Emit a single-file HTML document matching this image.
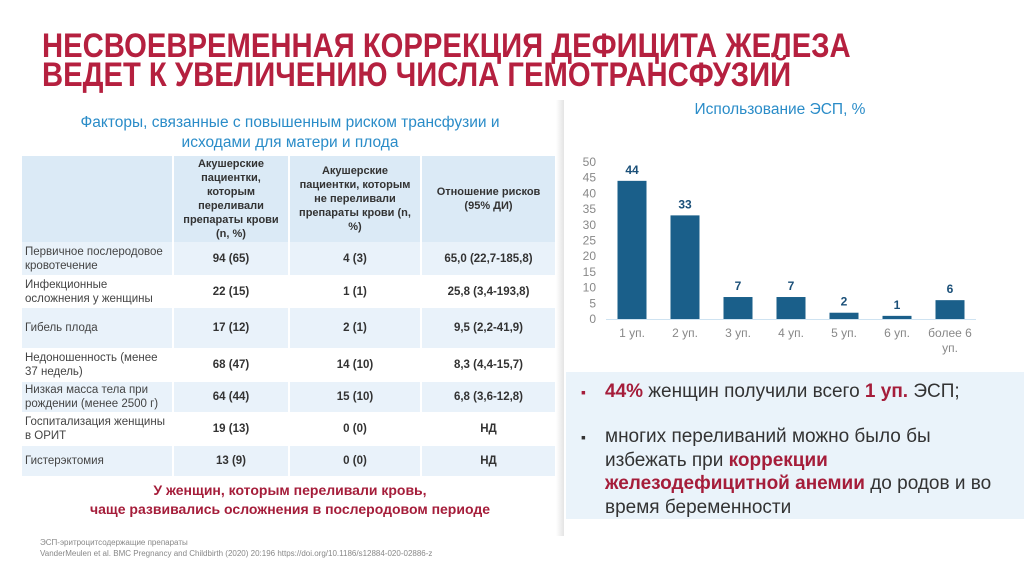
<!DOCTYPE html>
<html><head><meta charset="utf-8">
<style>
*{margin:0;padding:0;box-sizing:border-box}
body{width:1024px;height:574px;background:#fff;position:relative;overflow:hidden;font-family:"Liberation Sans","Noto Sans CJK SC",sans-serif;color:#333}
.abs{position:absolute}
.title{left:42px;font-family:"Liberation Sans",sans-serif;font-weight:bold;font-size:34px;color:#b5203f;white-space:nowrap;transform-origin:left top}
.sub{color:#2a8cc8;font-size:15.5px;text-align:center;line-height:20px}
.row{position:absolute;left:22px;width:533px;display:flex}
.row div{display:flex;align-items:center;justify-content:center;text-align:center;font-size:11.5px}
.row .c1{width:150px;justify-content:flex-start;text-align:left;padding-left:3px;color:#444;font-size:11.5px;line-height:14px}
.row .c2{width:116px;font-weight:bold;border-left:2px solid #fff}
.row .c3{width:132px;font-weight:bold;border-left:2px solid #fff}
.row .c4{width:135px;font-weight:bold;border-left:2px solid #fff}
.hd div{font-size:11px;line-height:14px;color:#333}
.l{background:#e9f2fa}
</style></head><body>
<div class="abs title" style="top:27px;transform:scaleX(0.86)">НЕСВОЕВРЕМЕННАЯ КОРРЕКЦИЯ ДЕФИЦИТА ЖЕЛЕЗА</div>
<div class="abs title" style="top:56px;transform:scaleX(0.86)">ВЕДЕТ К УВЕЛИЧЕНИЮ ЧИСЛА ГЕМОТРАНСФУЗИЙ</div>

<div class="abs" style="left:556px;top:100px;width:8px;height:436px;background:linear-gradient(90deg,#fff,#e4e4e4)"></div>

<div class="abs sub" style="left:20px;top:113px;width:540px">Факторы, связанные с повышенным риском трансфузии и<br>исходами для матери и плода</div>

<div class="row hd" style="top:156px;height:86px;background:#dbeaf6">
<div class="c1"></div>
<div class="c2" style="font-weight:bold">Акушерские<br>пациентки,<br>которым<br>переливали<br>препараты крови<br>(n, %)</div>
<div class="c3" style="font-weight:bold">Акушерские<br>пациентки, которым<br>не переливали<br>препараты крови (n,<br>%)</div>
<div class="c4" style="font-weight:bold">Отношение рисков<br>(95% ДИ)</div>
</div>
<div class="row l" style="top:242px;height:33px"><div class="c1">Первичное послеродовое кровотечение</div><div class="c2">94 (65)</div><div class="c3">4 (3)</div><div class="c4">65,0 (22,7-185,8)</div></div>
<div class="row" style="top:275px;height:33px"><div class="c1">Инфекционные осложнения у женщины</div><div class="c2">22 (15)</div><div class="c3">1 (1)</div><div class="c4">25,8 (3,4-193,8)</div></div>
<div class="row l" style="top:308px;height:40px"><div class="c1">Гибель плода</div><div class="c2">17 (12)</div><div class="c3">2 (1)</div><div class="c4">9,5 (2,2-41,9)</div></div>
<div class="row" style="top:348px;height:34px"><div class="c1">Недоношенность (менее 37 недель)</div><div class="c2">68 (47)</div><div class="c3">14 (10)</div><div class="c4">8,3 (4,4-15,7)</div></div>
<div class="row l" style="top:382px;height:30px"><div class="c1">Низкая масса тела при рождении (менее 2500 г)</div><div class="c2">64 (44)</div><div class="c3">15 (10)</div><div class="c4">6,8 (3,6-12,8)</div></div>
<div class="row" style="top:412px;height:34px"><div class="c1">Госпитализация женщины в ОРИТ</div><div class="c2">19 (13)</div><div class="c3">0 (0)</div><div class="c4">НД</div></div>
<div class="row l" style="top:446px;height:30px"><div class="c1">Гистерэктомия</div><div class="c2">13 (9)</div><div class="c3">0 (0)</div><div class="c4">НД</div></div>

<div class="abs" style="left:20px;top:481px;width:540px;text-align:center;color:#a51d3a;font-weight:bold;font-size:14px;line-height:19px">У женщин, которым переливали кровь,<br>чаще развивались осложнения в послеродовом периоде</div>
<div class="abs" style="left:40px;top:537px;font-size:8px;color:#888;line-height:11px">ЭСП-эритроцитсодержащие препараты<br>VanderMeulen et al. BMC Pregnancy and Childbirth (2020) 20:196 https://doi.org/10.1186/s12884-020-02886-z</div>

<div class="abs sub" style="left:640px;top:100px;width:280px">Использование ЭСП, %</div>
<svg class="abs" id="chart" style="left:0;top:0" width="1024" height="574"></svg>

<div class="abs" style="left:566px;top:372px;width:458px;height:147px;background:#eaf3fa"></div>
<div class="abs" style="left:581px;top:380px;font-size:19px;color:#333;line-height:23px;white-space:nowrap"><span style="color:#a51d3a;font-size:14px;position:absolute;left:0;top:1px">▪</span><div style="padding-left:24px"><b style="color:#a51d3a">44%</b> женщин получили всего <b style="color:#a51d3a">1 уп.</b> ЭСП;</div></div>
<div class="abs" style="left:581px;top:425px;font-size:19px;color:#333;line-height:23.5px;white-space:nowrap"><span style="position:absolute;left:0;top:1px;font-size:14px">▪</span><div style="padding-left:24px">многих переливаний можно было бы<br>избежать при <b style="color:#a51d3a">коррекции</b><br><b style="color:#a51d3a">железодефицитной анемии</b> до родов и во<br>время беременности</div></div>

<script>
const categories=["1 уп.","2 уп.","3 уп.","4 уп.","5 уп.","6 уп.","более 6|уп."];
const values=[44,33,7,7,2,1,6];
const yTicks=[0,5,10,15,20,25,30,35,40,45,50];
const svg=document.getElementById('chart');
const NS='http://www.w3.org/2000/svg';
const y0=319,y1=162,yMax=50;
const yS=v=>y0-(y0-y1)*v/yMax;
const xS=i=>632+53*i;
function mk(t,a,txt){const e=document.createElementNS(NS,t);for(const k in a)e.setAttribute(k,a[k]);if(txt!==undefined)e.textContent=txt;svg.appendChild(e);return e;}
yTicks.forEach(t=>{const e=mk('text',{x:596,y:yS(t)+4,'text-anchor':'end','font-size':12,fill:'#888','font-family':'Liberation Sans, sans-serif'},t);

});
const ax=mk('line',{x1:606,x2:976,y1:y0+0.5,y2:y0+0.5,stroke:'#cfe3f1','stroke-width':1});


values.forEach((v,i)=>{
const r=mk('rect',{x:xS(i)-14.5,y:yS(v),width:29,height:y0-yS(v),fill:'#1a5f8a'});


const l=mk('text',{x:xS(i),y:yS(v)-7,'text-anchor':'middle','font-size':12,'font-weight':'bold',fill:'#1a4f78','font-family':'Liberation Sans, sans-serif'},v);


categories[i].split('|').forEach((s,j)=>{const c=mk('text',{x:xS(i),y:337+j*15,'text-anchor':'middle','font-size':12,fill:'#888','font-family':'Liberation Sans, sans-serif'},s);

});
});
</script>
</body></html>
